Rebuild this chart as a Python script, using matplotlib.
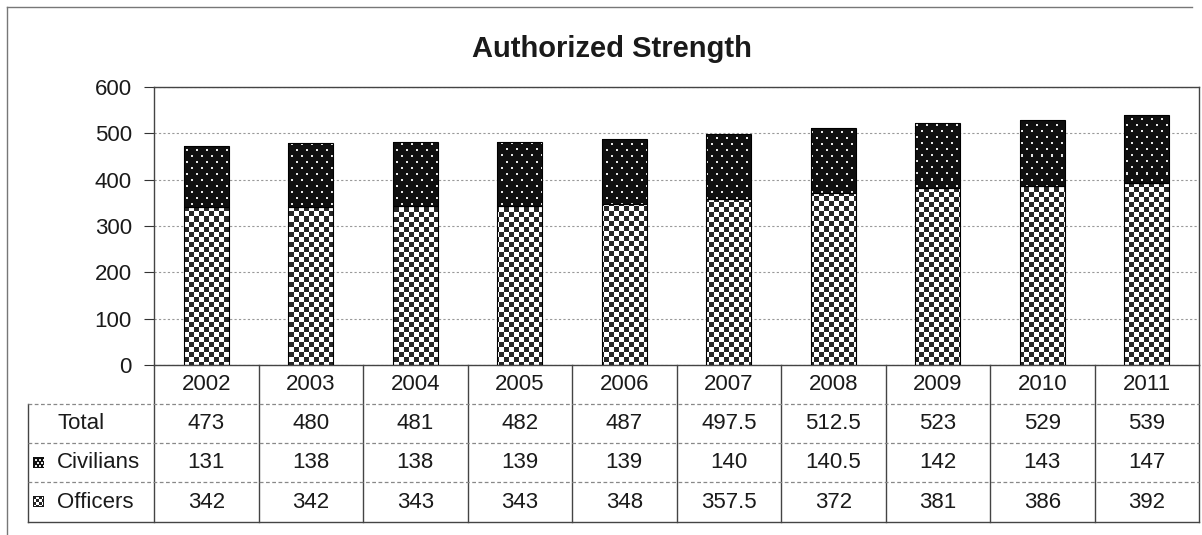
import numpy as np
import matplotlib
matplotlib.use("Agg")
import matplotlib.pyplot as plt

plt.rcParams['font.family'] = ['Liberation Sans', 'DejaVu Sans']

years = ["2002", "2003", "2004", "2005", "2006", "2007", "2008", "2009", "2010", "2011"]
officers = [342, 342, 343, 343, 348, 357.5, 372, 381, 386, 392]
civilians = [131, 138, 138, 139, 139, 140, 140.5, 142, 143, 147]
totals = ["473", "480", "481", "482", "487", "497.5", "512.5", "523", "529", "539"]
officers_txt = ["342", "342", "343", "343", "348", "357.5", "372", "381", "386", "392"]
civilians_txt = ["131", "138", "138", "139", "139", "140", "140.5", "142", "143", "147"]

W, H = 1202, 535
# plot area in pixels (from top-left)
px_l, px_r, px_t, px_b = 154, 1199, 87, 365
tab_l, tab_b = 28, 522
row_edges = [365, 404, 443, 482, 522]

fig = plt.figure(figsize=(W / 100, H / 100), dpi=100)
ax = fig.add_axes([px_l / W, 1 - px_b / H, (px_r - px_l) / W, (px_b - px_t) / H])

x = np.arange(len(years))
bw = 0.43
bars_off = ax.bar(x, officers, bw, facecolor='none', edgecolor='black', linewidth=0.8, zorder=3)
bars_civ = ax.bar(x, civilians, bw, bottom=officers, facecolor='none', edgecolor='black',
                  linewidth=0.8, zorder=3)


def checker(h, w, c=5):
    i, j = np.mgrid[0:h, 0:w]
    m = ((i // c + j // c) % 2) == 0
    img = np.ones((h, w, 3))
    img[m] = 0.15
    return img


def dots(h, w, sy=6, sx=10):
    img = np.full((h, w, 3), 0.06)
    for r, yy in enumerate(range(2, h, sy)):
        off = 2 + (sx // 2 if r % 2 else 0)
        for xx in range(off, w, sx):
            img[yy:yy + 2, xx:xx + 2] = 0.9
    return img


ph, pw = px_b - px_t, px_r - px_l
pat_off = checker(ph, pw)
pat_civ = dots(ph, pw)

for b in bars_off:
    im = ax.imshow(pat_off, extent=(-0.5, 9.5, 0, 600), aspect='auto',
                   interpolation='nearest', zorder=2)
    im.set_clip_path(b)
for b in bars_civ:
    im = ax.imshow(pat_civ, extent=(-0.5, 9.5, 0, 600), aspect='auto',
                   interpolation='nearest', zorder=2)
    im.set_clip_path(b)

ax.set_xlim(-0.5, 9.5)
ax.set_ylim(0, 600)
ax.set_yticks(range(0, 601, 100))
ax.set_xticks([])
ax.tick_params(axis='y', labelsize=16, length=7, pad=9, colors='#333', labelcolor='#1a1a1a')
ax.yaxis.grid(True, linestyle=(0, (2, 2)), color='#999999', linewidth=0.8)
ax.set_axisbelow(True)
for s in ax.spines.values():
    s.set_color('#444444')
    s.set_linewidth(1)

# overlay in pixel coordinates for the data table, title and frame
ov = fig.add_axes([0, 0, 1, 1])
ov.axis('off')

colw = (px_r - px_l) / len(years)
bounds = [px_l + k * colw for k in range(len(years) + 1)]
centers = [px_l + (k + 0.5) * colw for k in range(len(years))]

for bx in bounds:
    ov.plot([bx, bx], [row_edges[0], tab_b], color='#444444', lw=1)
ov.plot([tab_l, tab_l], [row_edges[1], tab_b], color='#444444', lw=1)
ov.plot([tab_l, px_r], [tab_b, tab_b], color='#444444', lw=1)
for ry in row_edges[1:4]:
    ov.plot([tab_l, px_r], [ry, ry], color='#888888', lw=0.9, ls=(0, (3, 2)))

fs = 16
tc = '#1a1a1a'
ymid = [(row_edges[k] + row_edges[k + 1]) / 2 for k in range(4)]
for k, cx in enumerate(centers):
    ov.text(cx, ymid[0], years[k], ha='center', va='center', fontsize=fs, color=tc)
    ov.text(cx, ymid[1], totals[k], ha='center', va='center', fontsize=fs, color=tc)
    ov.text(cx, ymid[2], civilians_txt[k], ha='center', va='center', fontsize=fs, color=tc)
    ov.text(cx, ymid[3], officers_txt[k], ha='center', va='center', fontsize=fs, color=tc)

ov.text(57, ymid[1], "Total", ha='left', va='center', fontsize=fs, color=tc)
ov.text(57, ymid[2], "Civilians", ha='left', va='center', fontsize=fs, color=tc)
ov.text(57, ymid[3], "Officers", ha='left', va='center', fontsize=fs, color=tc)

# legend keys
ov.imshow(dots(11, 11, 3, 4), extent=(33, 44, ymid[2] + 5.5, ymid[2] - 5.5),
          interpolation='nearest', aspect='auto')
key_off = checker(11, 11, 3)
key_off[0, :] = key_off[-1, :] = key_off[:, 0] = key_off[:, -1] = 0.1
ov.imshow(key_off, extent=(33, 44, ymid[3] + 5.5, ymid[3] - 5.5),
          interpolation='nearest', aspect='auto')

# outer frame
ov.plot([7, 1192], [7, 7], color='#777777', lw=1)
ov.plot([7, 7], [7, H], color='#777777', lw=1)

ov.set_xlim(0, W)
ov.set_ylim(H, 0)

fig.text(612 / W, 1 - 57 / H, "Authorized Strength", ha='center', va='baseline',
         fontsize=21, fontweight='bold', color=tc)

fig.savefig("out.png", dpi=100)
